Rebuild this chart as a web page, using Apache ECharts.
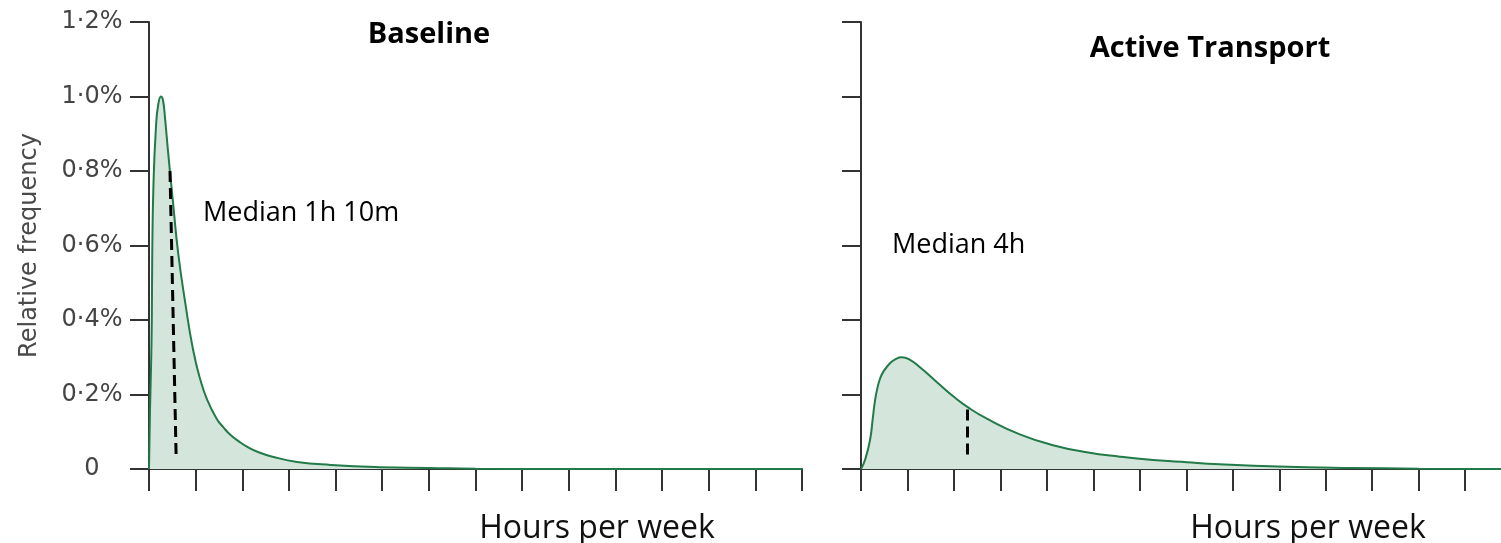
<!DOCTYPE html>
<html>
<head>
<meta charset="utf-8">
<script src="https://cdn.jsdelivr.net/npm/echarts@6/dist/echarts.min.js"></script>
<style>
  html, body { margin: 0; padding: 0; background: #fff; }
  #chart { width: 1501px; height: 543px; }
</style>
</head>
<body>
<div id="chart"></div>
<script>
// Weekly hours of physical activity: relative frequency (%) by hours per week
const baselineCurve = [
  [0, 0.0], [0.04, 0.15], [0.086, 0.27], [0.12, 0.40], [0.14, 0.58], [0.19, 0.76],
  [0.30, 0.92], [0.40, 0.98], [0.515, 1.0], [0.60, 0.99], [0.69, 0.94], [0.82, 0.85],
  [1.03, 0.716], [1.25, 0.58], [1.55, 0.448], [1.89, 0.32], [2.2, 0.24], [2.5, 0.185],
  [2.9, 0.135], [3.2, 0.111], [3.5, 0.091], [3.85, 0.074], [4.2, 0.060], [4.7, 0.045],
  [5.3, 0.033], [6.35, 0.019], [7.8, 0.011], [9.9, 0.005], [12, 0.003], [14, 0.001],
  [18, 0], [28, 0]
];
const activeCurve = [
  [0, 0], [0.15, 0.024], [0.34, 0.078], [0.45, 0.14], [0.53, 0.185], [0.62, 0.218],
  [0.72, 0.243], [0.85, 0.262], [1.09, 0.284], [1.3, 0.295], [1.54, 0.300], [1.8, 0.295],
  [2.22, 0.273], [2.86, 0.233], [3.46, 0.196], [4.06, 0.164], [4.74, 0.135], [5.98, 0.093],
  [7.23, 0.064], [8.5, 0.045], [9.75, 0.033], [11.0, 0.024], [12.27, 0.018], [13.5, 0.013],
  [15.7, 0.007], [18.4, 0.003], [21, 0.001], [24.1, 0]
];
// Median markers: hours, top and bottom of the dashed line (%)
const baselineMedian = { hours: 1.1667, top: [0.90, 0.80], bottom: 0.024, label: 'Median 1h 10m' };
const activeMedian = { hours: 4, top: 0.16, bottom: 0.03, label: 'Median 4h' };
const panelTitles = ['Baseline', 'Active Transport'];
const xAxisTitle = 'Hours per week';
const yAxisTitle = 'Relative frequency';
const yTicks = { min: 0, max: 1.2, step: 0.2 };
// x-axis tick steps (hours) and tick counts per panel
const baselineX = { max: 28, step: 2, ticks: 15 };
const activeX = { max: 24.1, step: 1.75, ticks: 14 };

const axisColor = '#333';
const lineGreen = '#217a47';
const fillGreen = '#d4e6db';

function pctLabel(v) {
  if (Math.abs(v) < 1e-9) return '0';
  return v.toFixed(1).replace('.', '\u00B7') + '%';
}
function tickValues(cfg) {
  const out = [];
  for (let i = 0; i < cfg.ticks; i++) out.push(+(i * cfg.step).toFixed(4));
  return out;
}

function xAxisDef(gridIndex, cfg) {
  return {
    type: 'value', gridIndex, min: 0, max: cfg.max, interval: cfg.step,
    axisLine: { lineStyle: { color: axisColor, width: 2 } },
    axisTick: { length: 22, customValues: tickValues(cfg), lineStyle: { color: axisColor, width: 2 } },
    axisLabel: { show: false },
    splitLine: { show: false }
  };
}
function yAxisDef(gridIndex, showLabels) {
  return {
    type: 'value', gridIndex, min: yTicks.min, max: yTicks.max, interval: yTicks.step,
    axisLine: { show: true, lineStyle: { color: axisColor, width: 2 } },
    axisTick: { show: true, length: 19, lineStyle: { color: axisColor, width: 2 } },
    axisLabel: {
      show: showLabels, formatter: pctLabel, align: 'center', margin: 57,
      color: '#444', fontFamily: 'DejaVu Sans', fontSize: 24
    },
    splitLine: { show: false },
    name: showLabels ? yAxisTitle : '',
    nameLocation: 'middle', nameGap: 107, nameRotate: 90,
    nameTextStyle: { color: '#4a4a4a', fontFamily: 'DejaVu Sans', fontSize: 24 }
  };
}
const dashed = { color: '#000', width: 3, type: [11, 6] };

const chart = echarts.init(document.getElementById('chart'), null, { renderer: 'canvas' });
chart.setOption({
  animation: false,
  backgroundColor: '#fff',
  grid: [
    { left: 149, top: 22, right: 699, bottom: 74 },
    { left: 861, top: 22, right: 0, bottom: 74 }
  ],
  xAxis: [xAxisDef(0, baselineX), xAxisDef(1, activeX)],
  yAxis: [yAxisDef(0, true), yAxisDef(1, false)],
  series: [
    {
      type: 'line', xAxisIndex: 0, yAxisIndex: 0, data: baselineCurve,
      showSymbol: false, smooth: 0.5,
      lineStyle: { color: lineGreen, width: 2 },
      areaStyle: { color: fillGreen, opacity: 1 },
      markLine: {
        silent: true, symbol: 'none', label: { show: false }, lineStyle: dashed,
        data: [[{ coord: baselineMedian.top }, { coord: [baselineMedian.hours, baselineMedian.bottom] }]]
      }
    },
    {
      type: 'line', xAxisIndex: 1, yAxisIndex: 1, data: activeCurve,
      showSymbol: false, smooth: 0.5,
      lineStyle: { color: lineGreen, width: 2 },
      areaStyle: { color: fillGreen, opacity: 1 },
      markLine: {
        silent: true, symbol: 'none', label: { show: false }, lineStyle: dashed,
        data: [[{ coord: [activeMedian.hours, activeMedian.top] }, { coord: [activeMedian.hours, activeMedian.bottom] }]]
      }
    }
  ],
  graphic: [
    { type: 'text', style: { text: panelTitles[0], x: 429, y: 35, align: 'center', verticalAlign: 'middle', font: 'bold 29px "Open Sans"', fill: '#000' } },
    { type: 'text', style: { text: panelTitles[1], x: 1210, y: 49, align: 'center', verticalAlign: 'middle', font: 'bold 29px "Open Sans"', fill: '#000' } },
    { type: 'text', style: { text: baselineMedian.label, x: 203, y: 213, align: 'left', verticalAlign: 'middle', font: '27px "Open Sans"', fill: '#000' } },
    { type: 'text', style: { text: activeMedian.label, x: 892, y: 245, align: 'left', verticalAlign: 'middle', font: '27px "Open Sans"', fill: '#000' } },
    { type: 'text', style: { text: xAxisTitle, x: 597, y: 529, align: 'center', verticalAlign: 'middle', font: '32px "Open Sans"', fill: '#111' } },
    { type: 'text', style: { text: xAxisTitle, x: 1308, y: 529, align: 'center', verticalAlign: 'middle', font: '32px "Open Sans"', fill: '#111' } }
  ]
});
</script>
</body>
</html>
